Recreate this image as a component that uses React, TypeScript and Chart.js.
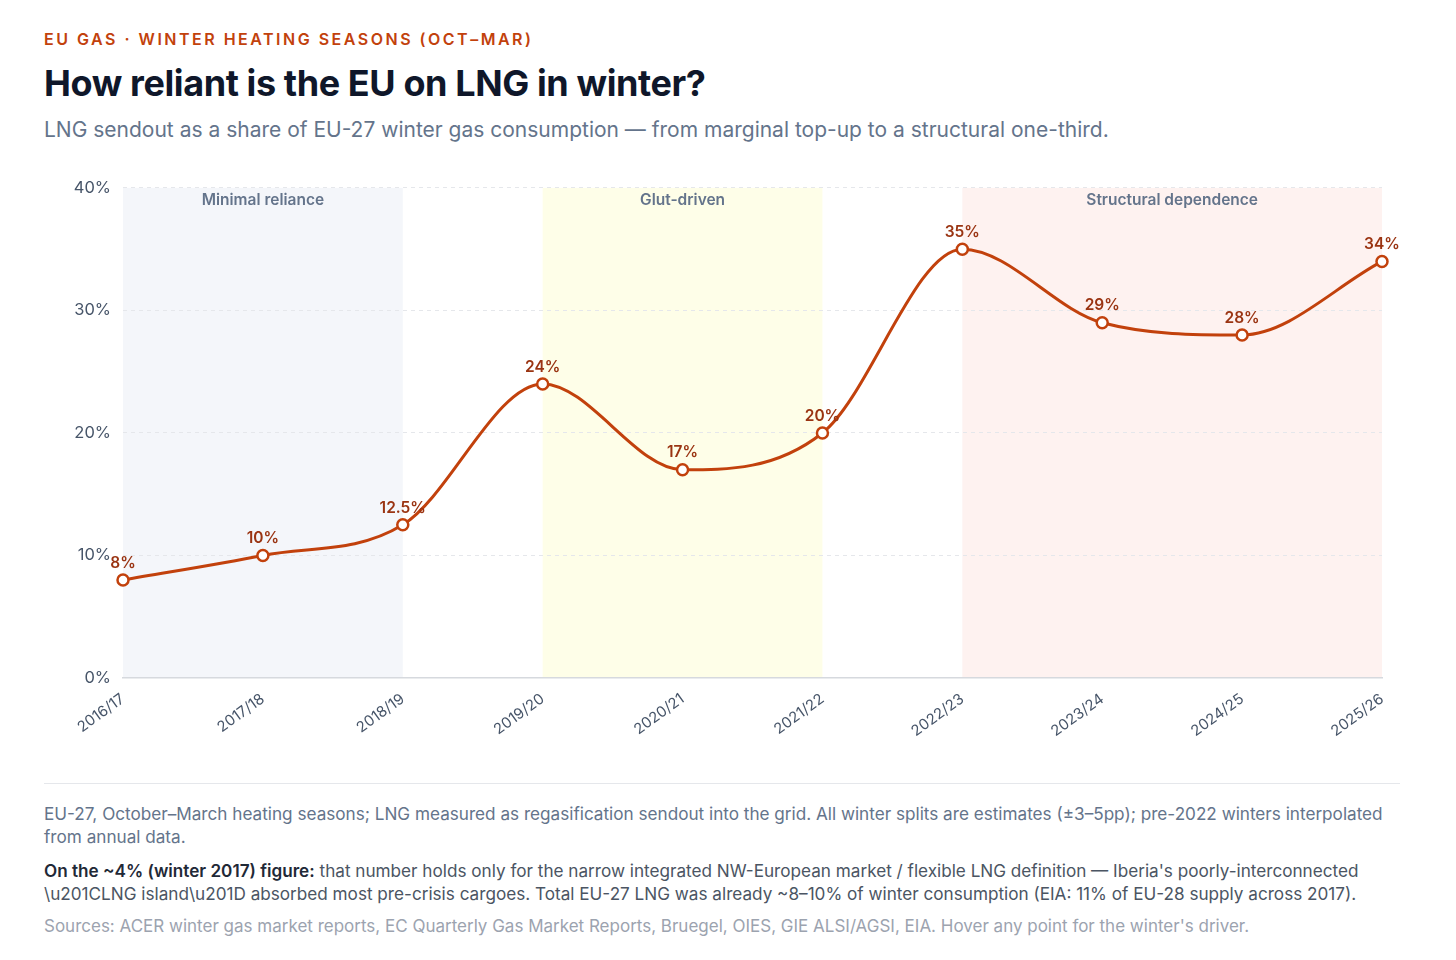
import React, { useEffect, useRef } from "react";
import { Chart, registerables } from "chart.js";

Chart.register(...registerables);

const winters = ["2016/17", "2017/18", "2018/19", "2019/20", "2020/21", "2021/22", "2022/23", "2023/24", "2024/25", "2025/26"];
const lngShare = [8, 10, 12.5, 24, 17, 20, 35, 29, 28, 34];
const yTicks = [0, 10, 20, 30, 40];

const bandLabels = ["Minimal reliance", "Glut-driven", "Structural dependence"];
const bandStart = [0, 3, 6];
const bandEnd = [2, 5, 9];
const bandColors = ["#f4f6fa", "#fefee8", "#fef2f0"];

const FONT = "Inter, 'Noto Sans', sans-serif";

const bandsPlugin = {
  id: "bands",
  beforeDraw(chart: any) {
    const { ctx, chartArea, scales } = chart;
    const x = scales.x;
    ctx.save();
    for (let i = 0; i < bandLabels.length; i++) {
      const x0 = x.getPixelForValue(bandStart[i]);
      const x1 = x.getPixelForValue(bandEnd[i]);
      ctx.fillStyle = bandColors[i];
      ctx.fillRect(x0, chartArea.top, x1 - x0, chartArea.bottom - chartArea.top);
    }
    ctx.restore();
  },
  afterDatasetsDraw(chart: any) {
    const { ctx, chartArea, scales } = chart;
    const x = scales.x;
    ctx.save();
    ctx.font = `600 15.5px ${FONT}`;
    ctx.fillStyle = "#64748b";
    ctx.textAlign = "center";
    ctx.textBaseline = "middle";
    for (let i = 0; i < bandLabels.length; i++) {
      const x0 = x.getPixelForValue(bandStart[i]);
      const x1 = x.getPixelForValue(bandEnd[i]);
      ctx.fillText(bandLabels[i], (x0 + x1) / 2, chartArea.top + 12.5);
    }
    ctx.restore();
  },
};

const valueLabelsPlugin = {
  id: "valueLabels",
  afterDatasetsDraw(chart: any) {
    const { ctx } = chart;
    const meta = chart.getDatasetMeta(0);
    ctx.save();
    ctx.font = `600 15.5px ${FONT}`;
    ctx.fillStyle = "#9a3412";
    ctx.textAlign = "center";
    ctx.textBaseline = "middle";
    meta.data.forEach((pt: any, i: number) => {
      ctx.fillText(`${lngShare[i]}%`, pt.x, pt.y - 17);
    });
    ctx.restore();
  },
};

function LngChart() {
  const ref = useRef<HTMLCanvasElement | null>(null);
  useEffect(() => {
    if (!ref.current) return;
    const chart = new Chart(ref.current, {
      type: "line",
      data: {
        labels: winters,
        datasets: [
          {
            data: lngShare,
            borderColor: "#c2410c",
            borderWidth: 3,
            cubicInterpolationMode: "monotone",
            tension: 0.4,
            pointRadius: 5.5,
            pointBorderWidth: 2.5,
            pointBackgroundColor: "#ffffff",
            pointBorderColor: "#c2410c",
            fill: false,
          },
        ],
      },
      options: {
        animation: false,
        responsive: true,
        maintainAspectRatio: false,
        layout: { padding: { top: 20, right: 18, left: 0, bottom: 0 } },
        plugins: { legend: { display: false }, tooltip: { enabled: false } },
        scales: {
          x: {
            offset: false,
            grid: { display: false },
            border: { display: true, color: "#d6d9de", width: 1.5 },
            ticks: {
              minRotation: 36,
              maxRotation: 36,
              color: "#475569",
              font: { family: FONT, size: 15 },
              padding: 4,
            },
            afterFit(scale: any) {
              scale.height = 78;
            },
          },
          y: {
            min: 0,
            max: 40,
            afterBuildTicks(scale: any) {
              scale.ticks = yTicks.map((v) => ({ value: v }));
            },
            grid: {
              color: (c: any) => (c.tick && c.tick.value === 0 ? "rgba(0,0,0,0)" : "#e5e7eb"),
              drawTicks: false,
            },
            border: { display: false, dash: [4, 4] },
            ticks: {
              color: "#475569",
              font: { family: FONT, size: 16.5 },
              padding: 12,
              callback: (v: any) => `${v}%`,
            },
            afterFit(scale: any) {
              scale.width = 79;
            },
          },
        },
      },
      plugins: [bandsPlugin, valueLabelsPlugin],
    });
    return () => chart.destroy();
  }, []);
  return (
    <div style={{ position: "relative", height: 590 }}>
      <canvas ref={ref} />
    </div>
  );
}

export default function App() {
  return (
    <div style={{ fontFamily: FONT, padding: "20px 48px 0 36px", background: "#fff" }}>
      <div style={{ fontSize: 16, fontWeight: 600, letterSpacing: 2.5, color: "#c2410c", lineHeight: "22px", whiteSpace: "nowrap" }}>
        EU GAS · WINTER HEATING SEASONS (OCT–MAR)
      </div>
      <div style={{ fontSize: 36, fontWeight: 700, color: "#0f172a", lineHeight: "44px", marginTop: 11, letterSpacing: -0.4, whiteSpace: "nowrap" }}>
        How reliant is the EU on LNG in winter?
      </div>
      <div style={{ fontSize: 21, color: "#64748b", lineHeight: "28px", marginTop: 11, whiteSpace: "nowrap" }}>
        LNG sendout as a share of EU-27 winter gas consumption — from marginal top-up to a structural one-third.
      </div>
      <div style={{ marginTop: 22 }}>
        <LngChart />
      </div>
      <div style={{ borderTop: "1px solid #e5e7eb", marginTop: 27, paddingTop: 18 }}>
        <div style={{ fontSize: 17.15, lineHeight: "23px", color: "#64748b" }}>
          EU-27, October–March heating seasons; LNG measured as regasification sendout into the grid. All winter splits are estimates (±3–5pp); pre-2022 winters interpolated from annual data.
        </div>
        <div style={{ fontSize: 17.15, lineHeight: "23px", color: "#4b5563", marginTop: 10.5 }}>
          <b style={{ color: "#1f2937", fontWeight: 600 }}>On the ~4% (winter 2017) figure:</b> that number holds only for the narrow integrated NW-European market / flexible LNG definition — Iberia's poorly-interconnected {"\\u201CLNG island\\u201D"} absorbed most pre-crisis cargoes. Total EU-27 LNG was already ~8–10% of winter consumption (EIA: 11% of EU-28 supply across 2017).
        </div>
        <div style={{ fontSize: 17, lineHeight: "22px", color: "#9ca3af", marginTop: 10.5 }}>
          Sources: ACER winter gas market reports, EC Quarterly Gas Market Reports, Bruegel, OIES, GIE ALSI/AGSI, EIA. Hover any point for the winter's driver.
        </div>
      </div>
    </div>
  );
}
